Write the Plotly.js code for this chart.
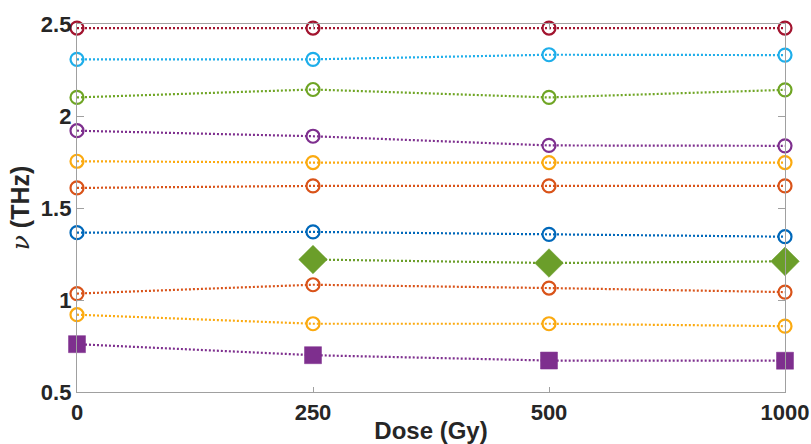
<!DOCTYPE html>
<html>
<head>
<meta charset="utf-8">
<script src="https://cdn.plot.ly/plotly-3.0.1.min.js"></script>
<style>html,body{margin:0;padding:0;background:#fff;}#chart{width:811px;height:444px;}</style>
</head>
<body>
<div id="chart"></div>
<script>
const doses = ['0', '250', '500', '1000'];
const yTicks = [0.5, 1, 1.5, 2, 2.5];

const sDarkRed   = [2.478, 2.478, 2.478, 2.478];
const sLightBlue = [2.308, 2.308, 2.333, 2.331];
const sGreen     = [2.101, 2.144, 2.101, 2.142];
const sPurple    = [1.92, 1.890, 1.840, 1.838];
const sYellow    = [1.754, 1.747, 1.747, 1.747];
const sOrange    = [1.609, 1.620, 1.620, 1.620];
const sBlue      = [1.366, 1.370, 1.357, 1.344];
const sDiamond   = [null, 1.220, 1.201, 1.210];
const sOrange2   = [1.035, 1.083, 1.065, 1.043];
const sYellow2   = [0.920, 0.871, 0.871, 0.858];
const sSquare    = [0.760, 0.700, 0.671, 0.670];

function series(y, color, symbol, size, filled) {
  return {
    x: doses, y: y, type: 'scatter', mode: 'lines+markers',
    connectgaps: false,
    line: {color: color, width: 2.2, dash: '2px,2px'},
    marker: filled
      ? {symbol: symbol, size: size, color: color, line: {color: color, width: 0.5}}
      : {symbol: symbol, size: size, color: color, line: {color: color, width: 2.2}},
    showlegend: false, cliponaxis: false
  };
}

const data = [
  series(sDarkRed,   '#A2142F', 'circle-open', 13, false),
  series(sLightBlue, '#1EAEEA', 'circle-open', 13, false),
  series(sGreen,     '#6FA524', 'circle-open', 13, false),
  series(sPurple,    '#7E2F8E', 'circle-open', 13, false),
  series(sYellow,    '#FBAA10', 'circle-open', 13, false),
  series(sOrange,    '#D95319', 'circle-open', 13, false),
  series(sBlue,      '#0068BA', 'circle-open', 13, false),
  series(sDiamond,   '#6B9E2A', 'diamond', 22, true),
  series(sOrange2,   '#D95319', 'circle-open', 13, false),
  series(sYellow2,   '#FBAA10', 'circle-open', 13, false),
  series(sSquare,    '#7E2F8E', 'square', 17, true)
];

const tickFont = {family: 'Liberation Sans, Arial, sans-serif', size: 22, color: '#262626', weight: 'bold'};

const layout = {
  width: 811, height: 444,
  margin: {l: 77, r: 26, t: 24, b: 52},
  paper_bgcolor: '#fff', plot_bgcolor: '#fff',
  xaxis: {
    type: 'category', range: [0, 3],
    tickvals: doses, ticktext: doses,
    showgrid: false, zeroline: false,
    showline: true, linecolor: '#A0A0A0', linewidth: 1.2, mirror: 'ticks',
    ticks: 'inside', ticklen: 5, tickcolor: '#A0A0A0', tickwidth: 1,
    tickfont: tickFont,
    title: {text: 'Dose (Gy)', font: {family: 'Liberation Sans, Arial, sans-serif', size: 24, color: '#262626', weight: 'bold'}, standoff: 0}
  },
  yaxis: {
    range: [0.5, 2.5],
    tickvals: yTicks, ticktext: ['0.5', '1', '1.5', '2', '2.5'],
    showgrid: false, zeroline: false,
    showline: true, linecolor: '#A0A0A0', linewidth: 1.2, mirror: 'ticks',
    ticks: 'inside', ticklen: 7, tickcolor: '#A0A0A0', tickwidth: 1,
    tickfont: tickFont,
    title: {text: '<span style="font-family:\'DejaVu Serif\';font-weight:normal;font-style:italic">ν</span> (THz)', font: {family: 'Liberation Sans, Arial, sans-serif', size: 25, color: '#262626', weight: 'bold'}, standoff: 4}
  }
};

Plotly.newPlot('chart', data, layout, {displayModeBar: false, staticPlot: true});
</script>
</body>
</html>
